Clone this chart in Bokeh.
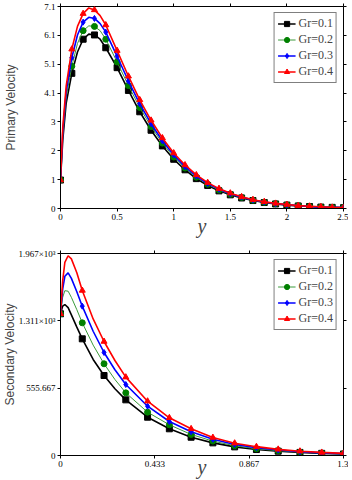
import numpy as np
from bokeh.plotting import figure
from bokeh.layouts import column
from bokeh.models import (Range1d, FixedTicker, LinearAxis, Legend, LegendItem,
                          CustomJSTickFormatter)
from bokeh.embed import file_html
from bokeh.resources import INLINE

# ---------------- data: primary velocity ----------------
labels = ["Gr=0.1", "Gr=0.2", "Gr=0.3", "Gr=0.4"]
colors = ["#000000", "#008000", "#0000ff", "#ff0000"]
line_colors = ["#000000", "#3a9a3a", "#0000ff", "#ff0000"]
line_widths = [1.6, 1.0, 1.6, 1.6]
markers = ["square", "circle", "diamond", "triangle"]

y1 = [0, 0.02, 0.05, 0.1, 0.15, 0.2, 0.25, 0.3, 0.35, 0.4, 0.5, 0.6, 0.7, 0.8, 0.9, 1.0,
      1.1, 1.2, 1.3, 1.4, 1.5, 1.6, 1.7, 1.8, 1.9, 2.0, 2.1, 2.2, 2.3, 2.4, 2.5]
prim_gr01 = [1.0, 2.4, 3.7, 4.75, 5.5, 5.95, 6.13, 6.1, 5.95, 5.65, 4.95, 4.15, 3.4, 2.75, 2.2, 1.73,
             1.36, 1.05, 0.81, 0.62, 0.48, 0.37, 0.28, 0.21, 0.16, 0.12, 0.09, 0.07, 0.05, 0.04, 0.03]
prim_gr02 = [1.0, 2.55, 3.9, 5.0, 5.8, 6.25, 6.42, 6.4, 6.25, 5.95, 5.15, 4.32, 3.55, 2.88, 2.3, 1.81,
             1.42, 1.1, 0.85, 0.65, 0.5, 0.39, 0.29, 0.22, 0.17, 0.13, 0.1, 0.07, 0.05, 0.04, 0.03]
prim_gr03 = [1.0, 2.7, 4.1, 5.3, 6.1, 6.55, 6.72, 6.68, 6.5, 6.2, 5.35, 4.48, 3.68, 2.98, 2.38, 1.88,
             1.47, 1.14, 0.88, 0.68, 0.52, 0.4, 0.3, 0.23, 0.17, 0.13, 0.1, 0.07, 0.05, 0.04, 0.03]
prim_gr04 = [1.0, 2.85, 4.3, 5.6, 6.4, 6.85, 7.05, 6.98, 6.78, 6.45, 5.55, 4.65, 3.82, 3.1, 2.48, 1.95,
             1.53, 1.18, 0.91, 0.7, 0.54, 0.41, 0.31, 0.24, 0.18, 0.14, 0.1, 0.08, 0.06, 0.04, 0.03]

prim_xticks = [0, 0.5, 1, 1.5, 2, 2.5]
prim_xlabels = ["0", "0.5", "1", "1.5", "2", "2.5"]
prim_ymax = 7.1
prim_ylabels = ["0", "1", "2", "3", "4.1", "5.1", "6.1", "7.1"]

# ---------------- data: secondary velocity ----------------
y2 = [0, 0.01, 0.02, 0.035, 0.05, 0.075, 0.1, 0.15, 0.2, 0.25, 0.3, 0.4, 0.5, 0.6, 0.7, 0.8,
      0.9, 1.0, 1.1, 1.2, 1.3]
sec_gr01 = [1380, 1455, 1470, 1440, 1370, 1250, 1136, 935, 779, 650, 542, 373, 260, 178, 123, 84,
            58, 42, 30, 21, 15]
sec_gr02 = [1380, 1540, 1605, 1600, 1540, 1420, 1292, 1075, 893, 740, 610, 422, 299, 205, 140, 95,
            66, 47, 33, 23, 16]
sec_gr03 = [1380, 1620, 1745, 1778, 1725, 1595, 1454, 1210, 1003, 835, 691, 480, 331, 232, 158, 108,
            76, 53, 37, 26, 18]
sec_gr04 = [1380, 1700, 1880, 1945, 1915, 1780, 1607, 1330, 1110, 925, 763, 529, 367, 260, 175, 120,
            86, 60, 42, 30, 21]

sec_xmax = 1.3
sec_xlabels = ["0", "0.433", "0.867", "1.3"]
sec_ymax = 1967
sec_ylabels = ["0", "555.667", "1.311\u00d710\u00b3", "1.967\u00d710\u00b3"]

SERIF = "Liberation Serif"
SANS = "Liberation Sans"


def make_fig(height, btop, bbot, xmax, ymax, xticks, xlabels, yticks, ylabels, ylab, ystand, xstand):
    p = figure(width=348, height=height, x_range=Range1d(0, xmax), y_range=Range1d(0, ymax),
               output_backend="svg", toolbar_location=None,
               min_border_left=60, min_border_right=5, min_border_top=btop, min_border_bottom=bbot)
    p.xgrid.visible = False
    p.ygrid.visible = False
    p.outline_line_color = "black"
    p.outline_line_alpha = 1
    p.outline_line_width = 1
    p.background_fill_color = "white"
    p.border_fill_color = "white"
    xa = p.below[0]
    ya = p.left[0]
    for ax, ticks, labs in ((xa, xticks, xlabels), (ya, yticks, ylabels)):
        ax.ticker = FixedTicker(ticks=ticks)
        ax.major_label_overrides = {t: l for t, l in zip(ticks, labs)}
        ax.major_label_text_font = SERIF
        ax.major_label_text_font_size = "9px"
        ax.major_label_text_color = "black"
        ax.axis_line_color = "black"
        ax.major_tick_line_color = "black"
        ax.major_tick_in = 0
        ax.major_tick_out = 3
        ax.minor_tick_line_color = None
        ax.major_label_standoff = 2
    xa.axis_label = "y"
    xa.axis_label_text_font = SERIF
    xa.axis_label_text_font_style = "italic"
    xa.axis_label_text_font_size = "20px"
    xa.axis_label_standoff = xstand
    ya.axis_label = ylab
    ya.axis_label_text_font = SANS
    ya.axis_label_text_font_style = "normal"
    ya.axis_label_text_font_size = "12px"
    ya.axis_label_standoff = ystand
    # mirrored ticks
    for side, ticks in (("right", yticks), ("above", xticks)):
        a = LinearAxis(ticker=FixedTicker(ticks=ticks), axis_line_color=None,
                       major_tick_in=0, major_tick_out=3, major_tick_line_color="black",
                       minor_tick_line_color=None, major_label_standoff=0,
                       formatter=CustomJSTickFormatter(code="return ''"))
        p.add_layout(a, side)
    return p


def add_series(p, xs, series, leg_kwargs):
    items = []
    xs = np.array(xs, dtype=float)
    mk = np.isclose(xs * 10, np.round(xs * 10))
    for ys, lab, c, lc, lw, m in zip(series, labels, colors, line_colors, line_widths, markers):
        ys = np.array(ys, dtype=float)
        r1 = p.line(xs, ys, line_color=lc, line_width=lw)
        r2 = p.scatter(xs[mk], ys[mk], marker=m, size=6, fill_color=c, line_color=c)
        items.append(LegendItem(label=lab, renderers=[r1, r2]))
    leg = Legend(items=items, location="top_right", **leg_kwargs)
    p.add_layout(leg)


leg_kw = dict(label_text_font=SERIF, label_text_font_size="12px", glyph_width=18, glyph_height=13,
              label_height=13, spacing=1, padding=3, margin=6, border_line_color="black",
              border_line_width=1, label_standoff=3, background_fill_alpha=1)

# top figure
p1_yticks = [i * prim_ymax / 7 for i in range(8)]
p1 = make_fig(246, 6, 38, 2.5, prim_ymax, prim_xticks, prim_xlabels, p1_yticks, prim_ylabels,
              "Primary Velocity", 23, -8)
add_series(p1, y1, [prim_gr01, prim_gr02, prim_gr03, prim_gr04], leg_kw)

# bottom figure
p2_xticks = [i * sec_xmax / 3 for i in range(4)]
p2_yticks = [i * sec_ymax / 3 for i in range(4)]
p2 = make_fig(234, 7, 25, sec_xmax, sec_ymax, p2_xticks, sec_xlabels, p2_yticks, sec_ylabels,
              "Secondary Velocity", -2, -14)
add_series(p2, y2, [sec_gr01, sec_gr02, sec_gr03, sec_gr04], leg_kw)

layout = column(p1, p2, spacing=0)
open("out.html", "w").write(file_html(layout, INLINE))
